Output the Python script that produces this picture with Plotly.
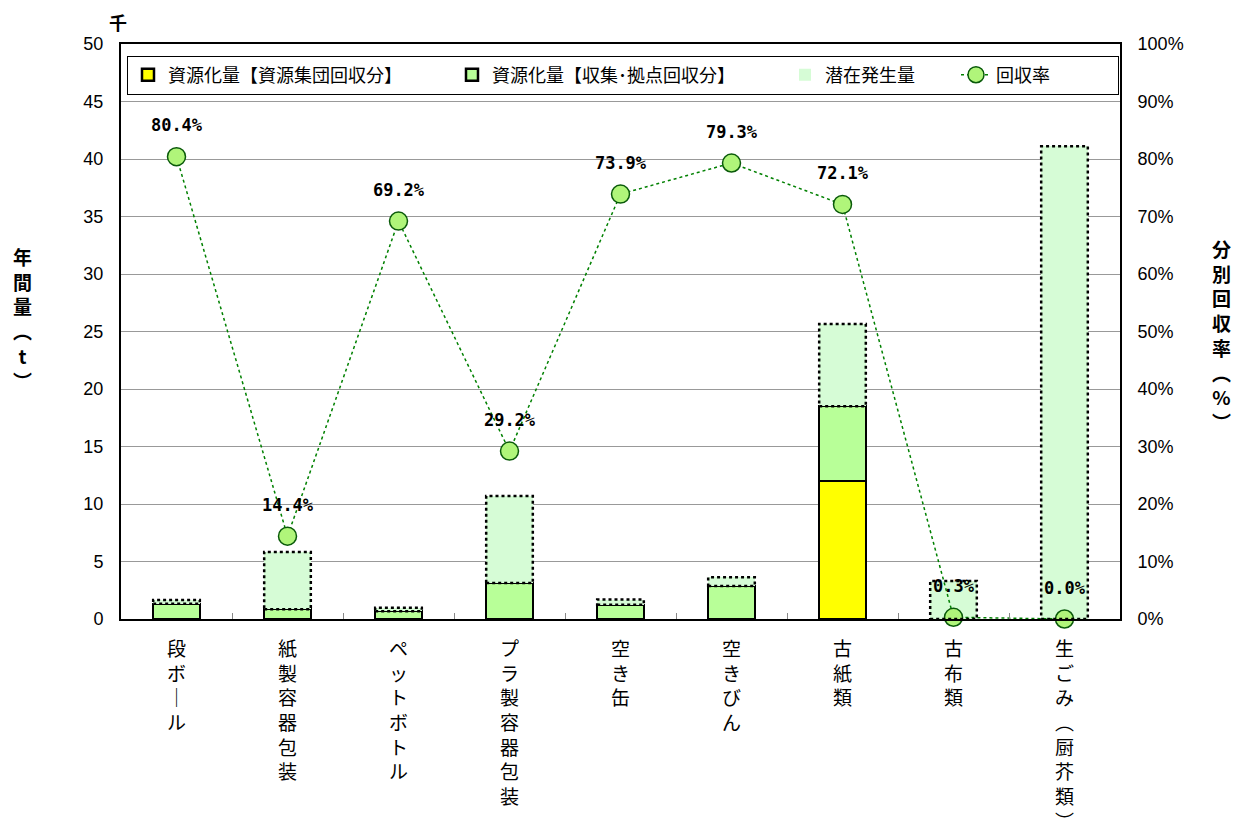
import plotly.graph_objects as go

# Categories of household waste
categories = ["段ボール", "紙製容器包装", "ペットボトル", "プラ製容器包装", "空き缶",
              "空きびん", "古紙類", "古布類", "生ごみ（厨芥類）"]

# Annual amounts (thousand t)
group_collection = [0, 0, 0, 0, 0, 0, 12.0, 0, 0]                       # 資源集団回収分
station_collection = [1.33, 0.84, 0.68, 3.13, 1.25, 2.87, 6.5, 0.01, 0]  # 収集・拠点回収分
potential = [1.65, 5.83, 0.98, 10.7, 1.69, 3.62, 25.65, 3.3, 41.1]       # 潜在発生量

# Separate collection rate (%)
rates = [80.4, 14.4, 69.2, 29.2, 73.9, 79.3, 72.1, 0.3, 0.0]

JP = "Noto Sans CJK JP"
BAR_W = 0.42
PAD = "\u3000\u3000\u3000"


def vertical(label):
    swap = {"ー": "｜", "（": "︵", "）": "︶"}
    return "<br>".join(swap.get(c, c) for c in label)


collected = [g + s for g, s in zip(group_collection, station_collection)]
remainder = [p - c for p, c in zip(potential, collected)]

fig = go.Figure()
fig.add_trace(go.Bar(
    x=categories, y=group_collection, name="資源化量【資源集団回収分】" + PAD,
    width=BAR_W, marker=dict(color="#ffff00", line=dict(color="black", width=2.5)),
))
fig.add_trace(go.Bar(
    x=categories, y=station_collection, name="資源化量【収集･拠点回収分】" + PAD,
    width=BAR_W, marker=dict(color="#b8ff98", line=dict(color="black", width=2.5)),
))
fig.add_trace(go.Bar(
    x=categories, y=remainder, name="潜在発生量" + "\u3000\u3000",
    width=BAR_W, marker=dict(color="#d6fcd6", line=dict(color="#d6fcd6", width=0)),
))
fig.add_trace(go.Scatter(
    x=categories, y=rates, name="回収率" + "\u3000\u3000\u3000\u2002", yaxis="y2",
    mode="lines+markers",
    line=dict(color="#008000", width=1.5, dash="dot"),
    marker=dict(symbol="circle", size=18, color="#b0f57a", line=dict(color="#0a5a0a", width=1.5)),
    cliponaxis=False,
))
# Rate labels, lifted above the markers by a transparent spacer marker
fig.add_trace(go.Scatter(
    x=categories, y=rates, yaxis="y2", mode="markers+text", showlegend=False,
    marker=dict(size=32, opacity=0), hoverinfo="skip",
    text=[f"{r:.1f}%" for r in rates], textposition="top center",
    textfont=dict(family="DejaVu Sans Mono", size=17, color="black", weight="bold"),
    cliponaxis=False,
))

# Dashed outline around the potential-generation part of each bar
for i, (c, p) in enumerate(zip(collected, potential)):
    fig.add_shape(type="rect", xref="x", yref="y",
                  x0=i - BAR_W / 2, x1=i + BAR_W / 2, y0=c, y1=p,
                  line=dict(color="black", width=2.5, dash="dot"), layer="above")

fig.update_layout(
    width=1240, height=827,
    margin=dict(l=121, r=120, t=44, b=208),
    paper_bgcolor="white", plot_bgcolor="white",
    barmode="stack", bargap=0,
    font=dict(family=JP, size=16, color="black"),
    showlegend=True,
    legend=dict(orientation="h", x=0.006, y=0.98, xanchor="left", yanchor="top",
                bgcolor="white", bordercolor="black", borderwidth=1,
                font=dict(family=JP, size=18), traceorder="normal"),
    xaxis=dict(
        type="category", tickmode="array", tickvals=categories,
        ticktext=[vertical(c) for c in categories],
        tickson="boundaries", ticks="inside", ticklen=6, tickcolor="#888",
        showline=True, linecolor="black", linewidth=2, mirror=True,
        tickfont=dict(family=JP, size=19), ticklabelstandoff=12,
        range=[-0.5, 8.5], automargin=False,
    ),
    yaxis=dict(
        range=[0, 50], dtick=5, showgrid=True, gridcolor="#999999", gridwidth=1,
        showline=True, linecolor="black", linewidth=2, zeroline=False,
        tickfont=dict(family="Liberation Sans", size=18), ticks="",
        ticklabelstandoff=12, automargin=False,
    ),
    yaxis2=dict(
        overlaying="y", side="right", range=[0, 100], dtick=10, ticksuffix="%",
        showgrid=False, showline=True, linecolor="black", linewidth=2, zeroline=False,
        tickfont=dict(family="Liberation Sans", size=18),
        ticklabelstandoff=12, automargin=False,
    ),
    annotations=[
        dict(text="千", xref="paper", yref="paper", x=-0.003, y=1.038,
             xanchor="center", yanchor="middle",
             showarrow=False, font=dict(family=JP, size=18, weight="bold")),
        dict(text=vertical("年間量（t）"), xref="paper", yref="paper", x=-0.099, y=0.523,
             xanchor="center", yanchor="middle",
             showarrow=False, font=dict(family=JP, size=19, weight="bold")),
        dict(text=vertical("分別回収率（%）"), xref="paper", yref="paper", x=1.102, y=0.494,
             xanchor="center", yanchor="middle",
             showarrow=False, font=dict(family=JP, size=19, weight="bold")),
    ],
)

fig.write_html("out.html")
